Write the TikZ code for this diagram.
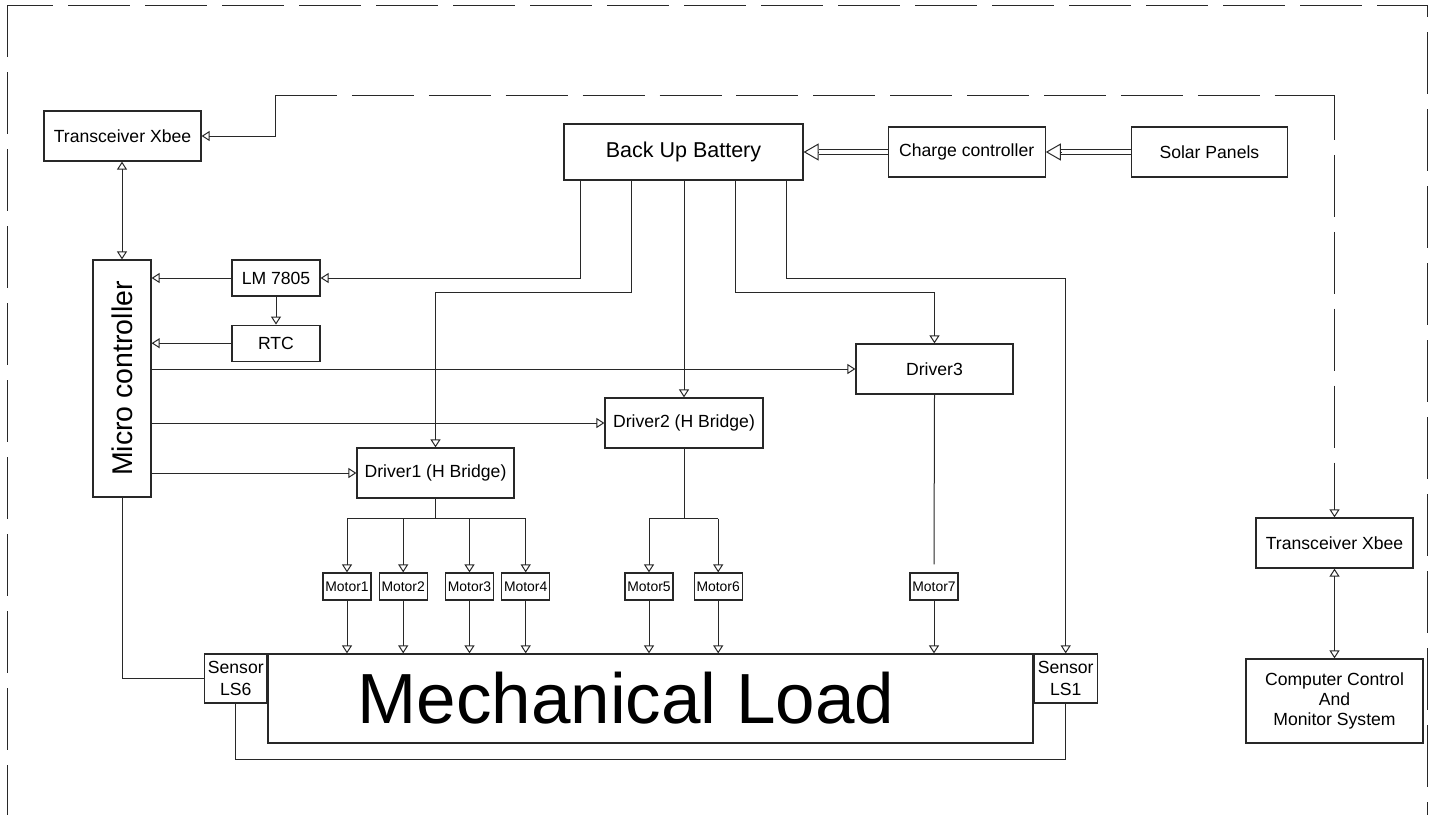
\documentclass[tikz,border=0pt]{standalone}
\usepackage{fontspec}
\setmainfont{Liberation Sans}
\usepackage{graphicx}
\usetikzlibrary{arrows.meta, positioning}
\definecolor{wire}{RGB}{40,40,40}

\begin{document}
\begin{tikzpicture}[
    x=1pt, y=-1pt,
    box/.style={rectangle, draw=wire, line width=1.2pt, minimum width=157pt, minimum height=50pt, align=center, inner sep=2pt, font=\fontsize{17.6}{21.5}\selectfont},
    motor/.style={box, minimum width=48pt, minimum height=27pt, inner sep=1pt, font=\fontsize{13.9}{16}\selectfont},
    arr/.style={-{Triangle[open, length=8pt, width=10pt]}, line width=1pt, color=wire},
    biarr/.style={{Triangle[open, length=8pt, width=10pt]}-{Triangle[open, length=8pt, width=10pt]}, line width=1pt, color=wire},
    ln/.style={line width=1pt, color=wire},
    pwr/.style={double, double distance=4.5pt, line width=0.9pt, color=wire},
    pwrtip/.style={-{Triangle[open, length=15pt, width=17pt]}, line width=1pt, color=wire},
    border/.style={ln, dash pattern=on 62pt off 15pt}
]
\clip (0,0) rectangle (1435,814);

% outer frame
\draw[border, dash phase=10pt] (7,5) -- (7,830);
\draw[border, dash phase=16pt] (7,5) -- (1427,5) -- (1427,830);

% control side
\node[box] (xbeeL) at (122.5,136) {Transceiver Xbee};
\node[box, minimum width=58pt, minimum height=237pt, font=\fontsize{28.5}{30}\selectfont] (micro) at (122,378.5) {\rotatebox{90}{Micro controller}};
\node[box, minimum width=88pt, minimum height=36pt] (lm) at (276,278) {LM 7805};
\node[box, minimum width=88pt, minimum height=36pt, below=28pt of lm] (rtc) {RTC};

% power
\node[box, minimum width=239pt, minimum height=56pt, font=\fontsize{21.5}{24}\selectfont] (bat) at (683.5,152) {Back Up Battery};
\node[box, right=84pt of bat] (chg) {Charge controller};
\node[box, minimum width=156pt, right=85pt of chg] (solar) {Solar Panels};

% drivers
\node[box] (drv3) at (934.5,369) {Driver3};
\node[box, minimum width=158pt] (drv2) at (684,423) {Driver2 (H Bridge)};
\node[box] (drv1) at (435.5,473) {Driver1 (H Bridge)};

% motors
\node[motor] (m1) at (347,586.5) {Motor1};
\node[motor, right=7pt of m1] (m2) {Motor2};
\node[motor] (m3) at (469.5,586.5) {Motor3};
\node[motor, right=7pt of m3] (m4) {Motor4};
\node[motor] (m5) at (649,586.5) {Motor5};
\node[motor, right=20pt of m5] (m6) {Motor6};
\node[motor] (m7) at (934,586.5) {Motor7};

% load and sensors
\node[box, minimum width=765pt, minimum height=89pt, font=\fontsize{71}{75}\selectfont] (load) at (650.5,698.5) {Mechanical Load\hspace*{49pt}};
\node[box, minimum width=62pt, minimum height=49pt, inner sep=1pt, anchor=north east] (ls6) at (load.north west) {Sensor\\LS6};
\node[box, minimum width=63pt, minimum height=49pt, inner sep=1pt, anchor=north west] (ls1) at (load.north east) {Sensor\\LS1};

% monitoring station
\node[box] (xbeeR) at (1334.5,543) {Transceiver Xbee};
\node[box, minimum width=177pt, minimum height=84pt] (comp) at (1334.5,701) {\raisebox{7pt}{\begin{tabular}{@{}c@{}}Computer Control\\[-1.5pt]And\\[-1.5pt]Monitor System\end{tabular}}};

% charging chain
\draw[pwr] (solar.west) -- ([xshift=15pt]chg.east);
\draw[pwrtip] ([xshift=15pt]chg.east) -- (chg.east);
\draw[pwr] (chg.west) -- ([xshift=15pt]bat.east);
\draw[pwrtip] ([xshift=15pt]bat.east) -- (bat.east);

% battery feeds
\draw[arr] ([xshift=-103pt]bat.south) |- (lm.east);
\draw[arr] ([xshift=-52pt]bat.south) -- ++(0,112) -| (drv1.north);
\draw[arr] (drv2.north |- bat.south) -- (drv2.north);
\draw[arr] ([xshift=52pt]bat.south) -- ++(0,112) -| (drv3.north);
\draw[arr] ([xshift=103pt]bat.south) -- ++(0,98) -| (ls1.north);

% micro controller links
\draw[arr] (lm.west) -- (lm.west -| micro.east);
\draw[arr] (rtc.west) -- (rtc.west -| micro.east);
\draw[arr] (lm.south) -- (rtc.north);
\draw[arr] (micro.east |- drv3.west) -- (drv3.west);
\draw[arr] (micro.east |- drv2.west) -- (drv2.west);
\draw[arr] (micro.east |- drv1.west) -- (drv1.west);
\draw[biarr] (micro.north |- xbeeL.south) -- (micro.north);
\draw[ln] (micro.south) |- (ls6.west);
\draw[ln] (ls6.south) -- ++(0,56) -| (ls1.south);

% drivers to motors
\draw[ln] (drv1.south) -- ++(0,20) coordinate (bus1);
\draw[ln] (m1.north |- bus1) -- (m4.north |- bus1);
\foreach \m in {m1,m2,m3,m4} \draw[arr] (\m.north |- bus1) -- (\m.north);
\draw[ln] (drv2.south) -- (drv2.south |- bus1) coordinate (bus2);
\draw[ln] (m5.north |- bus2) -- (m6.north |- bus2);
\foreach \m in {m5,m6} \draw[arr] (\m.north |- bus2) -- (\m.north);
\draw[ln] (drv3.south) -- ([yshift=8pt]m7.north);
\foreach \m in {m1,m2,m3,m4,m5,m6,m7} \draw[arr] (\m.south) -- (\m.south |- load.north);

% radio link
\coordinate (r1) at (275,95);
\coordinate (r2) at (1334.5,95);
\draw[arr] (r1) |- (xbeeL.east);
\draw[ln, dash pattern=on 62pt off 14.9pt] (r1) -- (r2);
\draw[arr, dash pattern=on 62pt off 14.9pt, dash phase=17pt] (r2) -- (xbeeR.north);
\draw[biarr] (xbeeR.south) -- (comp.north);
\end{tikzpicture}
\end{document}
